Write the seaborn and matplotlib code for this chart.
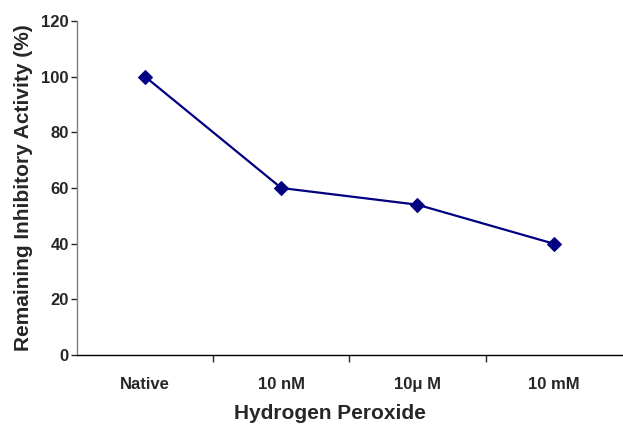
import pandas as pd
import matplotlib
matplotlib.use("Agg")
import matplotlib.pyplot as plt
import seaborn as sns

treatments = ["Native", "10 nM", "10\u03bc M", "10 mM"]
activity = [100, 60, 54, 40]

df = pd.DataFrame({"treatment": treatments, "activity": activity})

sns.set_style("white")
plt.rcParams["font.family"] = ["Liberation Sans", "DejaVu Sans"]
plt.rcParams["font.weight"] = "bold"

fig = plt.figure(figsize=(6.23, 4.30), dpi=100)
ax = fig.add_axes([77 / 623, 75 / 430, 1 - 77 / 623 - 0.002, (355 - 21) / 430])

sns.lineplot(data=df, x="treatment", y="activity", sort=False, color="#000080",
             marker="D", markersize=7.5, markeredgecolor="#000080", linewidth=1.6, ax=ax)

ax.set_xlim(-0.5, 3.5)
ax.set_ylim(0, 120)
ax.set_yticks(range(0, 121, 20))
ax.set_xticks(range(4))
ax.set_xticklabels(treatments, fontsize=12, fontweight="bold")
ax.set_xticks([0.5, 1.5, 2.5], minor=True)
ax.tick_params(axis="x", which="major", length=0, pad=16)
ax.tick_params(axis="x", which="minor", length=5, width=1, direction="out", bottom=True)
ax.tick_params(axis="y", length=4, width=1, direction="out", left=True, labelsize=12, pad=2)
for lab in ax.get_yticklabels():
    lab.set_fontweight("bold")

sns.despine(ax=ax)
ax.spines["left"].set_color("#808080")
ax.spines["bottom"].set_color("#000000")
ax.spines["left"].set_linewidth(1)
ax.spines["bottom"].set_linewidth(1)

ax.set_ylabel("Remaining Inhibitory Activity (%)", fontsize=15, fontweight="bold")
ax.yaxis.set_label_coords(-0.081, 0.5)
ax.set_xlabel("Hydrogen Peroxide", fontsize=15, fontweight="bold")
ax.xaxis.set_label_coords(0.464, -0.147)

fig.savefig("out.png", dpi=100)
